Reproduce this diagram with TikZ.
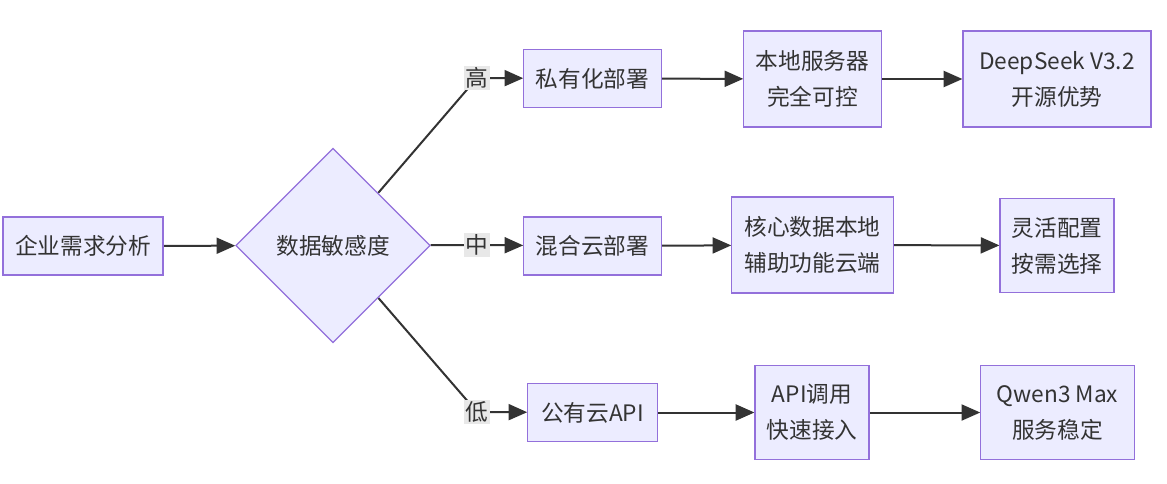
\documentclass[tikz,border=0pt]{standalone}
\usepackage{fontspec}
\setmainfont{Noto Sans CJK SC}
\usetikzlibrary{shapes.geometric, arrows.meta, positioning}
\pgfdeclarelayer{bg}
\pgfsetlayers{bg,main}

\definecolor{boxfill}{HTML}{ECECFF}
\definecolor{boxline}{HTML}{9370DB}
\definecolor{linkcol}{HTML}{333333}
\definecolor{lblfill}{HTML}{E8E8E8}

\tikzset{
  box/.style={draw=boxline, fill=boxfill, line width=0.9pt, text=linkcol,
    align=center, inner sep=0pt, font=\fontsize{17}{27}\selectfont},
  decide/.style={box, diamond, aspect=1, minimum size=146pt},
  link/.style={draw=linkcol, line width=1.5pt, -{Triangle[length=14pt,width=12pt]}},
  lbl/.style={fill=lblfill, text=linkcol, inner sep=1.5pt, font=\fontsize{17}{20}\selectfont},
}

\begin{document}
\begin{tikzpicture}[x=0.75pt, y=-0.75pt]
      \useasboundingbox (0,0) rectangle (1167,483);

      \node[box, minimum width=120pt, minimum height=43.5pt] (need) at (83,246) {企业需求分析};
      \node[decide] (sens) at (333,245.5) {数据敏感度};

      % edge labels
      \node[lbl] (high) at (477,78) {高};
      \node[lbl] (mid) at (477,245) {中};
      \node[lbl] (low) at (477,412) {低};

      % top row
      \node[box, minimum width=103pt, minimum height=44pt] (priv) at (592.5,78.5) {私有化部署};
      \node[box, minimum width=103pt, minimum height=72pt] (local) at (812.5,79) {本地服务器\\完全可控};
      \node[box, minimum width=141pt, minimum height=72pt] (deep) at (1057,79) {DeepSeek V3.2\\开源优势};

      % middle row
      \node[box, minimum width=103pt, minimum height=43.5pt] (hyb) at (592.5,246) {混合云部署};
      \node[box, minimum width=121pt, minimum height=72pt] (core) at (812.5,245) {核心数据本地\\辅助功能云端};
      \node[box, minimum width=85.5pt, minimum height=71pt] (flex) at (1057,245.5) {灵活配置\\按需选择};

      % bottom row
      \node[box, minimum width=97pt, minimum height=44pt] (pub) at (592.5,412.5) {公有云API};
      \node[box, minimum width=85.5pt, minimum height=71pt] (api) at (812,412.5) {API调用\\快速接入};
      \node[box, minimum width=115pt, minimum height=71pt] (qwen) at (1057.5,412.5) {Qwen3 Max\\服务稳定};

      \begin{pgfonlayer}{bg}
        \draw[link] (need) -- (sens);
        \draw[link] (sens) -- (high.center) -- (priv);
        \draw[link] (sens) -- (mid.center) -- (hyb);
        \draw[link] (sens) -- (low.center) -- (pub);
        \draw[link] (priv) -- (local);
        \draw[link] (local) -- (deep);
        \draw[link] (hyb) -- (core);
        \draw[link] (core) -- (flex);
        \draw[link] (pub) -- (api);
        \draw[link] (api) -- (qwen);
      \end{pgfonlayer}
    \end{tikzpicture}
\end{document}
